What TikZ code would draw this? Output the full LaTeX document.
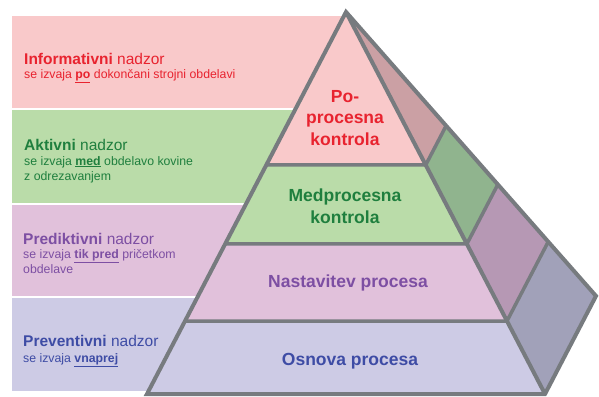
\documentclass[tikz,border=0pt]{standalone}
\usepackage{fontspec}
\setmainfont{Liberation Sans}
\usetikzlibrary{calc}
\definecolor{bandR}{HTML}{F9C9CA}
\definecolor{bandG}{HTML}{BADCA9}
\definecolor{bandP}{HTML}{E1C1DB}
\definecolor{bandB}{HTML}{CDCBE5}
\definecolor{sideR}{HTML}{CBA0A4}
\definecolor{sideG}{HTML}{90B48E}
\definecolor{sideP}{HTML}{B698B4}
\definecolor{sideB}{HTML}{A1A1B9}
\definecolor{txtR}{HTML}{E8232F}
\definecolor{txtG}{HTML}{1F7F3E}
\definecolor{txtP}{HTML}{7D4FA3}
\definecolor{txtB}{HTML}{3E4CA5}
\definecolor{edge}{HTML}{777B7F}
\tikzset{
  band/.style={fill=#1, draw=none},
  facet/.style={fill=#1, draw=none},
  outline/.style={draw=edge, line width=4pt, line join=miter},
  divider/.style={draw=edge, line width=3.5pt},
  bandtitle/.style={anchor=base west, inner sep=0pt, font=\fontsize{15.5}{18}\selectfont, text=#1},
  bandsub/.style={anchor=base west, inner sep=0pt, align=left, font=\fontsize{12.3}{15}\selectfont, text=#1},
  tierlabel/.style={inner sep=0pt, align=center, font=\fontsize{17.5}{21.5}\selectfont\bfseries, text=#1}
}
\begin{document}
\begin{tikzpicture}[x=1pt,y=-1pt]
\useasboundingbox (0,0) rectangle (599,396);
% left bands
\path[band=bandR] (12,16) rectangle (350,108);
\path[band=bandG] (12,110) rectangle (350,203);
\path[band=bandP] (12,205) rectangle (350,296);
\path[band=bandB] (12,298) rectangle (350,391);
% pyramid corners
\coordinate (A) at (346,12);
\coordinate (L) at (147,394);
\coordinate (F) at (545,394);
\coordinate (B) at (596,296);
\coordinate (L1) at ($(A)!0.4005!(L)$);
\coordinate (L2) at ($(A)!0.6073!(L)$);
\coordinate (L3) at ($(A)!0.8089!(L)$);
\coordinate (F1) at ($(A)!0.4005!(F)$);
\coordinate (F2) at ($(A)!0.6073!(F)$);
\coordinate (F3) at ($(A)!0.8089!(F)$);
\coordinate (B1) at ($(A)!0.4005!(B)$);
\coordinate (B2) at ($(A)!0.6073!(B)$);
\coordinate (B3) at ($(A)!0.8089!(B)$);
% front tiers
\path[facet=bandR] (A) -- (F1) -- (L1) -- cycle;
\path[facet=bandG] (L1) -- (F1) -- (F2) -- (L2) -- cycle;
\path[facet=bandP] (L2) -- (F2) -- (F3) -- (L3) -- cycle;
\path[facet=bandB] (L3) -- (F3) -- (F) -- (L) -- cycle;
% side facets
\path[facet=sideR] (A) -- (B1) -- (F1) -- cycle;
\path[facet=sideG] (F1) -- (B1) -- (B2) -- (F2) -- cycle;
\path[facet=sideP] (F2) -- (B2) -- (B3) -- (F3) -- cycle;
\path[facet=sideB] (F3) -- (B3) -- (B) -- (F) -- cycle;
% dividers
\draw[divider] (L1) -- (F1) -- (B1);
\draw[divider] (L2) -- (F2) -- (B2);
\draw[divider] (L3) -- (F3) -- (B3);
\draw[outline] (A) -- (F);
\draw[outline] (A) -- (L) -- (F) -- (B) -- cycle;
% tier labels
\node[tierlabel=txtR] (t1) at (345,118) {Po-\\procesna\\kontrola};
\node[tierlabel=txtG] (t2) at (345,206) {Medprocesna\\kontrola};
\node[tierlabel=txtP] (t3) at (348,283) {Nastavitev procesa};
\node[tierlabel=txtB] (t4) at (350,361) {Osnova procesa};
% band texts
\node[bandtitle=txtR] (h1) at (24,64) {\textbf{Informativni} nadzor};
\node[bandsub=txtR] (s1) at (24,78) {se izvaja \underline{\textbf{po}} dokončani strojni obdelavi};
\node[bandtitle=txtG] (h2) at (24,150) {\textbf{Aktivni} nadzor};
\node[bandsub=txtG] (s2) at (24,180) {se izvaja \underline{\textbf{med}} obdelavo kovine\\z odrezavanjem};
\node[bandtitle=txtP] (h3) at (23,244) {\textbf{Prediktivni} nadzor};
\node[bandsub=txtP] (s3) at (23,273) {se izvaja \underline{\textbf{tik pred}} pričetkom\\obdelave};
\node[bandtitle=txtB] (h4) at (23,346) {\textbf{Preventivni} nadzor};
\node[bandsub=txtB] (s4) at (23,362) {se izvaja \underline{\textbf{vnaprej}}};
\end{tikzpicture}
\end{document}
